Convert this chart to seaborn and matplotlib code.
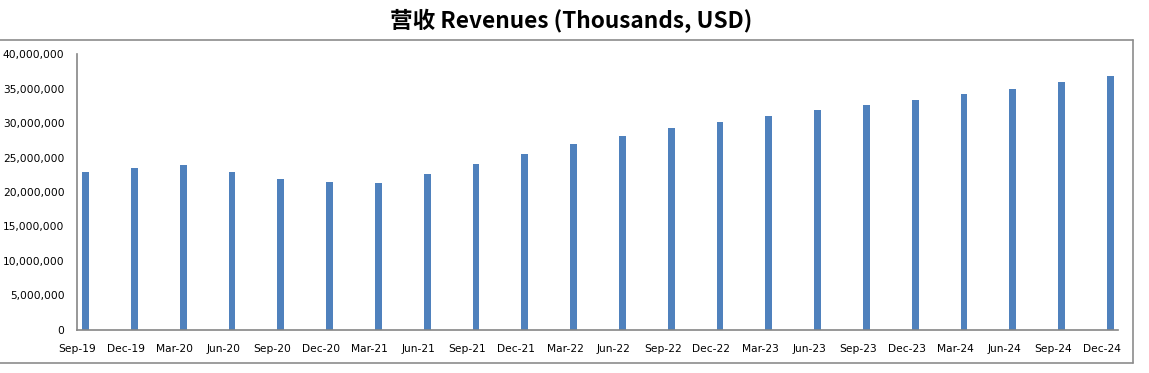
import numpy as np
import pandas as pd
import matplotlib
matplotlib.use("Agg")
import matplotlib.pyplot as plt
import matplotlib.ticker as mticker
from matplotlib.lines import Line2D
import seaborn as sns

# quarters and revenue (thousands USD)
quarters = ["Sep-19", "Dec-19", "Mar-20", "Jun-20", "Sep-20", "Dec-20", "Mar-21", "Jun-21",
            "Sep-21", "Dec-21", "Mar-22", "Jun-22", "Sep-22", "Dec-22", "Mar-23", "Jun-23",
            "Sep-23", "Dec-23", "Mar-24", "Jun-24", "Sep-24", "Dec-24"]
revenue = [22.9, 23.5, 23.9, 22.9, 21.9, 21.45, 21.3, 22.6,
           24.05, 25.5, 26.95, 28.1, 29.3, 30.15, 31.0, 31.9,
           32.6, 33.35, 34.2, 34.9, 35.9, 36.8]
revenue = [v * 1e6 for v in revenue]

df = pd.DataFrame({"quarter": quarters, "revenue": revenue})

sns.set_style("white")
plt.rcParams["font.family"] = ["DejaVu Sans"]

fig = plt.figure(figsize=(11.49, 3.73), dpi=100)
ax = fig.add_axes([0.067, 0.1153, 0.906, 0.7399])

sns.barplot(data=df, x="quarter", y="revenue", color="#4F81BD", width=0.14,
            saturation=1, linewidth=0, ax=ax)

# excel-style date axis: tick sits a bit left of each bar
n = len(quarters)
off = 0.175
ax.set_xticks(np.arange(n) - off)
ax.set_xticklabels(quarters)
ax.set_xlim(-off, 21.33 - off)
ax.set_ylim(0, 40_000_000)
ax.set_yticks(np.arange(0, 40_000_001, 5_000_000))
ax.yaxis.set_major_formatter(mticker.FuncFormatter(lambda v, p: f"{v:,.0f}"))
ax.set_xlabel("")
ax.set_ylabel("")

gray = "#868686"
for s in ["top", "right"]:
    ax.spines[s].set_visible(False)
for s in ["left", "bottom"]:
    ax.spines[s].set_color(gray)
    ax.spines[s].set_linewidth(1.2)
ax.tick_params(axis="both", direction="out", length=4, width=1, color=gray,
               labelsize=7.7, labelcolor="black")
ax.tick_params(axis="x", pad=6)
ax.tick_params(axis="y", pad=5)

fig.text(0.497, 0.944, "营收 Revenues (Thousands, USD)", ha="center", va="center",
         fontsize=16.3, fontweight="bold", color="black",
         family=["Noto Sans CJK SC", "DejaVu Sans"])

# chart-area frame (left edge cut off)
fc = "#8c8c8c"
top_y, bot_y, right_x = 1 - 40 / 373, 1 - 363 / 373, 1133 / 1149
fig.add_artist(Line2D([-0.01, right_x], [top_y, top_y], color=fc, lw=1.2, transform=fig.transFigure))
fig.add_artist(Line2D([-0.01, right_x], [bot_y, bot_y], color=fc, lw=1.2, transform=fig.transFigure))
fig.add_artist(Line2D([right_x, right_x], [bot_y, top_y], color=fc, lw=1.2, transform=fig.transFigure))

fig.savefig("out.png", dpi=100)
